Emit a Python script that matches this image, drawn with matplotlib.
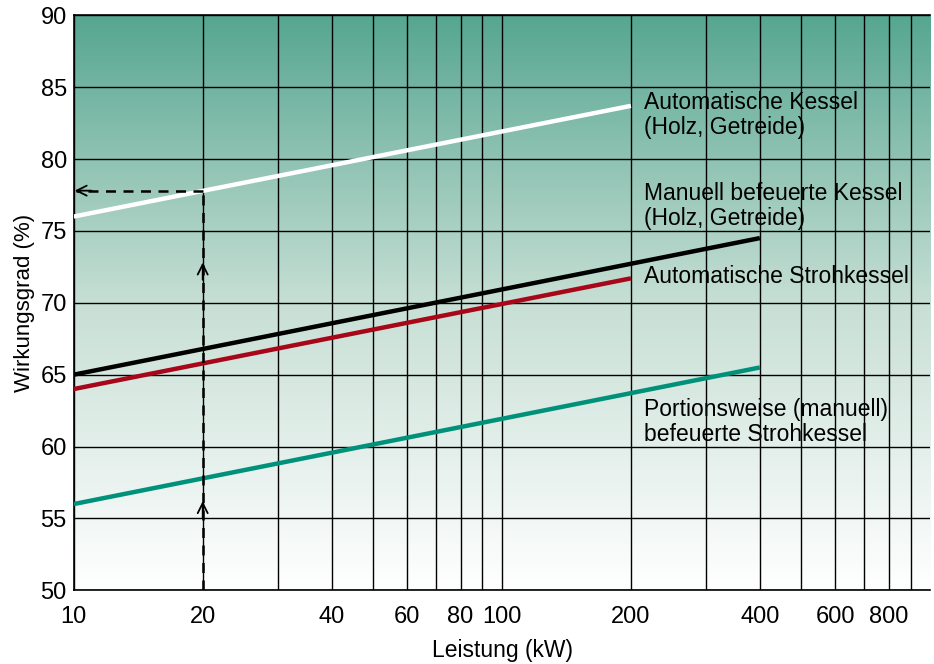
import numpy as np
import matplotlib
matplotlib.use("Agg")
from matplotlib import pyplot as plt
from matplotlib.colors import LinearSegmentedColormap
from matplotlib import font_manager

plt.rcParams['font.family'] = ['Liberation Sans', 'DejaVu Sans']

# data
leistung_start = [10, 10, 10, 10]
leistung_end = [200, 400, 200, 400]
wirkung_start = [76.0, 65.0, 64.0, 56.0]
wirkung_end = [83.7, 74.5, 71.7, 65.5]
line_colors = ['#ffffff', '#000000', '#a8071a', '#00917a']

labels = ['Automatische Kessel\n(Holz, Getreide)',
          'Manuell befeuerte Kessel\n(Holz, Getreide)',
          'Automatische Strohkessel',
          'Portionsweise (manuell)\nbefeuerte Strohkessel']
label_x = [214, 214, 214, 214]
label_y = [83.05, 76.75, 71.85, 61.7]

grid_x = [10, 20, 30, 40, 50, 60, 70, 80, 90, 100,
          200, 300, 400, 500, 600, 700, 800, 900]
tick_labels = ['10', '20', '', '40', '', '60', '', '80', '', '100',
               '200', '', '400', '', '600', '', '800', '']
grid_y = [50, 55, 60, 65, 70, 75, 80, 85, 90]

# example reading: 20 kW -> 77.8 %
ex_x = 20
ex_y = 77.8
arrow_y = [56.2, 72.8]

# narrow face for the tick numbers if available
names = {f.name for f in font_manager.fontManager.ttflist}
tick_family = 'Liberation Sans Narrow' if 'Liberation Sans Narrow' in names else 'Liberation Sans'

fig = plt.figure(figsize=(9.34, 6.64), dpi=100)
ax = fig.add_axes([0.079, 0.111, 0.917, 0.866])
ax.set_xscale('log')
ax.set_xlim(10, 1000)
ax.set_ylim(50, 90)

# background gradient, teal at top to white at bottom
cmap = LinearSegmentedColormap.from_list('bg', ['#ffffff', '#c7dfd5', '#56a690'])
grad = np.linspace(0, 1, 256).reshape(-1, 1)
ax.imshow(grad, aspect='auto', cmap=cmap, origin='lower',
          extent=[0, 1, 0, 1], transform=ax.transAxes, zorder=0)

ax.set_xticks(grid_x)
ax.set_xticklabels(tick_labels)
ax.xaxis.set_minor_locator(matplotlib.ticker.NullLocator())
ax.set_yticks(grid_y)
ax.tick_params(length=0, labelsize=17)
ax.tick_params(axis='x', pad=11)
ax.tick_params(axis='y', pad=5)
for t in ax.get_xticklabels() + ax.get_yticklabels():
    t.set_family(tick_family)
ax.grid(True, color='black', lw=1.0, zorder=1)

for s in ['left', 'bottom', 'top']:
    ax.spines[s].set_color('black')
    ax.spines[s].set_linewidth(1.2)
ax.spines['right'].set_visible(False)

for i in range(len(leistung_start)):
    ax.plot([leistung_start[i], leistung_end[i]], [wirkung_start[i], wirkung_end[i]],
            color=line_colors[i], lw=3.2, solid_capstyle='butt', zorder=3)
    ax.text(label_x[i], label_y[i], labels[i], fontsize=16.5, va='center',
            ha='left', linespacing=1.12, zorder=4)

# dashed reading lines
ax.plot([ex_x, ex_x], [50, ex_y], color='black', lw=1.8, ls=(0, (4, 3)), zorder=3)
ax.plot([ex_x, 10.1], [ex_y, ex_y], color='black', lw=1.8, ls=(0, (4, 3)), zorder=3)
ax.annotate('', xy=(10.05, ex_y), xytext=(11, ex_y),
            arrowprops=dict(arrowstyle='->', lw=1.3, color='black',
                            mutation_scale=18, shrinkA=0, shrinkB=0), zorder=4)
for ay in arrow_y:
    ax.annotate('', xy=(ex_x, ay), xytext=(ex_x, ay - 1.2),
                arrowprops=dict(arrowstyle='->', lw=1.3, color='black',
                                mutation_scale=18, shrinkA=0, shrinkB=0), zorder=4)

ax.set_xlabel('Leistung (kW)', fontsize=16.5, labelpad=8)
ax.set_ylabel('Wirkungsgrad (%)', fontsize=16, labelpad=4)

fig.savefig('out.png', dpi=100)
